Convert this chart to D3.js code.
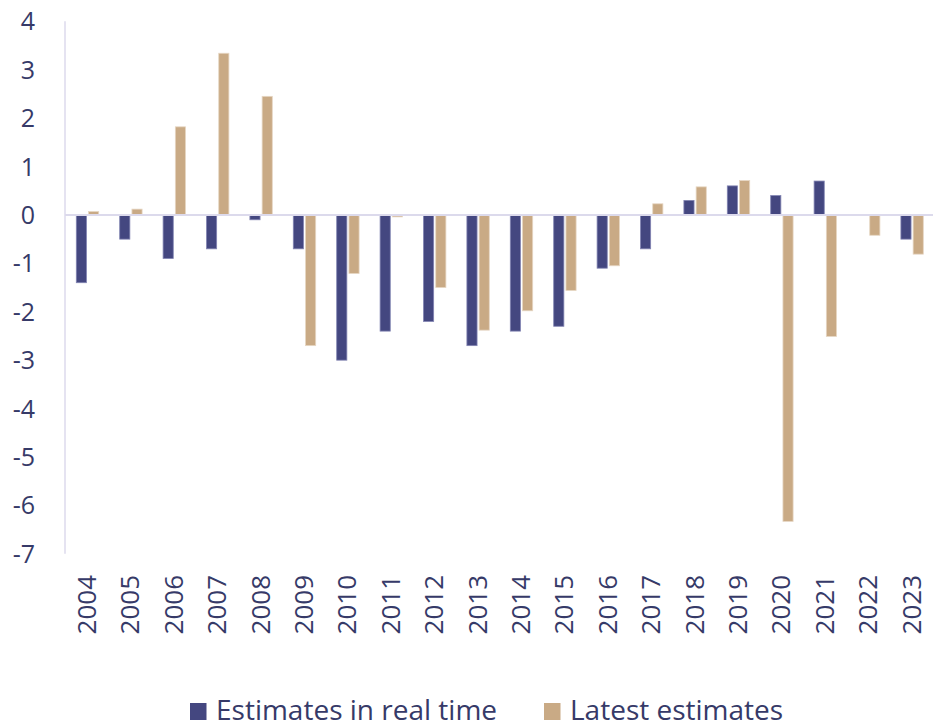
<!DOCTYPE html>
<html>
<head>
<meta charset="utf-8">
<script src="https://cdn.jsdelivr.net/npm/d3@7"></script>
<style>
  html, body { margin: 0; padding: 0; background: #ffffff; }
  svg { display: block; font-family: "Open Sans", "Noto Sans", sans-serif; }
</style>
</head>
<body>
<svg id="chart" width="933" height="725"></svg>
<script>
// Years on the horizontal axis
const years = ["2004","2005","2006","2007","2008","2009","2010","2011","2012","2013",
               "2014","2015","2016","2017","2018","2019","2020","2021","2022","2023"];

// Estimates made in real time
const realTime = [-1.4, -0.5, -0.9, -0.7, -0.1, -0.7, -3.0, -2.4, -2.2, -2.7,
                  -2.4, -2.3, -1.1, -0.7, 0.3, 0.6, 0.4, 0.7, 0.0, -0.5];

// Latest available estimates
const latest = [0.07, 0.12, 1.82, 3.34, 2.45, -2.7, -1.21, -0.04, -1.5, -2.38,
                -1.98, -1.56, -1.05, 0.23, 0.58, 0.71, -6.33, -2.51, -0.42, -0.81];

const yTicks = [4, 3, 2, 1, 0, -1, -2, -3, -4, -5, -6, -7];

const seriesNames = ["Estimates in real time", "Latest estimates"];
const colors = ["#444780", "#c9aa85"];
const strokes = ["#8284b2", "#e6d6c3"];
const textColor = "#363a68";
const axisColor = "#dcdaec";

const svg = d3.select("#chart");
const plotLeft = 65, plotRight = 933, plotTop = 21.3, plotBottom = 553.8;

const x = d3.scaleBand().domain(years).range([plotLeft, plotRight]).paddingInner(0).paddingOuter(0);
const sub = d3.scaleBand().domain([0, 1]).range([11.3, 33.7]).paddingInner(0.17);
const y = d3.scaleLinear().domain([-7, 4]).range([plotBottom, plotTop]);

// Bars
const rows = years.map((yr, i) => ({ year: yr, vals: [realTime[i], latest[i]] }));
const groups = svg.append("g").selectAll("g").data(rows).join("g")
  .attr("transform", d => `translate(${x(d.year)},0)`);
groups.selectAll("rect")
  .data(d => d.vals.map((v, k) => ({ v, k })).filter(e => e.v !== 0))
  .join("rect")
  .attr("x", e => sub(e.k))
  .attr("width", sub.bandwidth())
  .attr("y", e => y(Math.max(0, e.v)))
  .attr("height", e => Math.abs(y(e.v) - y(0)))
  .attr("fill", e => colors[e.k])
  .attr("stroke", e => strokes[e.k])
  .attr("stroke-width", 0.8);

// Y axis line
svg.append("line")
  .attr("x1", plotLeft).attr("x2", plotLeft)
  .attr("y1", y(4)).attr("y2", y(-7))
  .attr("stroke", axisColor).attr("stroke-width", 1.5);

// Zero line
svg.append("line")
  .attr("x1", plotLeft).attr("x2", plotRight)
  .attr("y1", y(0)).attr("y2", y(0))
  .attr("stroke", axisColor).attr("stroke-width", 2);

// Y tick labels
const yAxis = d3.axisLeft(y).tickValues(yTicks).tickSize(0).tickPadding(0)
  .tickFormat(d => d < 0 ? "-" + Math.abs(d) : String(d));
const yg = svg.append("g").attr("transform", "translate(35,0)").call(yAxis);
yg.select(".domain").remove();
yg.selectAll("text")
  .attr("fill", textColor)
  .style("font-size", "25px")
  .style("font-family", "'Open Sans', sans-serif")
  .attr("dy", "0.34em");

// X tick labels (rotated)
const xAxis = d3.axisBottom(x).tickSize(0).tickPadding(0);
const xg = svg.append("g").attr("transform", "translate(0,575)").call(xAxis);
xg.select(".domain").remove();
xg.selectAll("text")
  .attr("fill", textColor)
  .style("font-size", "26px")
  .style("font-family", "'Open Sans', sans-serif")
  .attr("text-anchor", "end")
  .attr("transform", "rotate(-90)")
  .attr("x", 0)
  .attr("y", 0)
  .attr("dy", "0.36em");

// Legend
const legendX = [190, 544];
const legend = svg.append("g");
seriesNames.forEach((name, k) => {
  legend.append("rect")
    .attr("x", legendX[k]).attr("y", 703)
    .attr("width", 16.5).attr("height", 17)
    .attr("fill", colors[k]);
  legend.append("text")
    .attr("x", legendX[k] + 26).attr("y", 719.5)
    .attr("fill", textColor)
    .style("font-size", "28px")
    .style("font-family", "'Open Sans', sans-serif")
    .text(name);
});
</script>
</body>
</html>
